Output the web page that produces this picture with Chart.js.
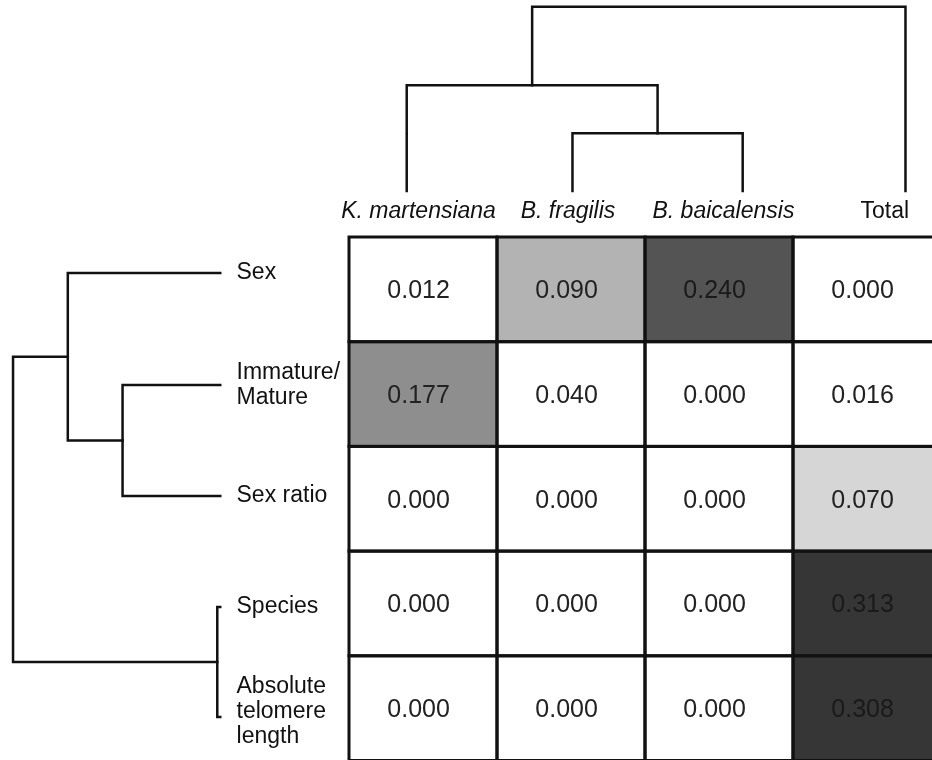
<!DOCTYPE html>
<html>
<head>
<meta charset="utf-8">
<script src="https://cdn.jsdelivr.net/npm/chart.js@4.4.1/dist/chart.umd.min.js"></script>
<style>
  html, body { margin: 0; padding: 0; background: #fff; overflow: hidden; }
  canvas { display: block; }
</style>
</head>
<body>
<canvas id="heat" width="932" height="760"></canvas>
<script>
// heatmap columns and rows
var columns = ['K. martensiana', 'B. fragilis', 'B. baicalensis', 'Total'];
var rows = ['Sex', 'Immature/\nMature', 'Sex ratio', 'Species', 'Absolute\ntelomere\nlength'];

// values per column, one entry per row
var kMartensiana = [0.012, 0.177, 0.000, 0.000, 0.000];
var bFragilis    = [0.090, 0.040, 0.000, 0.000, 0.000];
var bBaicalensis = [0.240, 0.000, 0.000, 0.000, 0.000];
var total        = [0.000, 0.016, 0.070, 0.313, 0.308];
var colValues = [kMartensiana, bFragilis, bBaicalensis, total];

// dendrograms: merge heights (leaf = index)
var colTree = {h: 2.2, kids: [{h: 1.45, kids: [0, {h: 0.99, kids: [1, 2]}]}, 3]};
var rowTree = {h: 2.27, kids: [{h: 1.90, kids: [0, {h: 1.53, kids: [1, 2]}]}, {h: 0.89, kids: [3, 4]}]};

// layout (in plot units: one cell = 1 x 1)
var colLeafX = [0.39, 1.51, 2.66, 3.76];
var colLabelX = [0.47, 1.48, 2.53, 3.62];
var rowLeafY = [0.344, 1.414, 2.474, 3.534, 4.585];
var colLeafBase = 0.44, rowLeafBase = 0.87;

var shade = function(v) {
  if (v < 0.05) return '#ffffff';
  if (v < 0.08) return '#d6d6d6';
  if (v < 0.15) return '#b3b3b3';
  if (v < 0.2) return '#8e8e8e';
  if (v < 0.3) return '#545454';
  return '#363636';
};

var buildTree = function(node, leafPos, base, out) {
  if (typeof node === 'number') return {pos: leafPos[node], h: base};
  var a = buildTree(node.kids[0], leafPos, base, out);
  var b = buildTree(node.kids[1], leafPos, base, out);
  out.push([[a.pos, a.h], [a.pos, node.h], [b.pos, node.h], [b.pos, b.h]]);
  return {pos: (a.pos + b.pos) / 2, h: node.h};
};

var datasets = [];
var colPaths = [], rowPaths = [];
buildTree(colTree, colLeafX, colLeafBase, colPaths);
buildTree(rowTree, rowLeafY, rowLeafBase, rowPaths);
colPaths.forEach(function(p) {
  datasets.push({data: p.map(function(q) { return {x: q[0], y: -q[1]}; })});
});
rowPaths.forEach(function(p) {
  datasets.push({data: p.map(function(q) { return {x: -q[1], y: q[0]}; })});
});
datasets.forEach(function(d) {
  d.showLine = true;
  d.borderColor = '#111';
  d.borderWidth = 2.5;
  d.pointRadius = 0;
  d.borderCapStyle = 'square';
  d.borderJoinStyle = 'miter';
  d.tension = 0;
});

var FONT = '"Liberation Sans", Arial, sans-serif';

var heatPlugin = {
  id: 'heat',
  beforeDatasetsDraw: function(chart) {
    var ctx = chart.ctx, xs = chart.scales.x, ys = chart.scales.y;
    ctx.save();
    // cell fills
    colValues.forEach(function(vals, c) {
      vals.forEach(function(v, r) {
        var x0 = xs.getPixelForValue(c), x1 = xs.getPixelForValue(c + 1);
        var y0 = ys.getPixelForValue(r), y1 = ys.getPixelForValue(r + 1);
        ctx.fillStyle = shade(v);
        ctx.fillRect(x0, y0, x1 - x0, y1 - y0);
      });
    });
    // cell borders
    ctx.strokeStyle = '#111';
    ctx.lineWidth = 3;
    colValues.forEach(function(vals, c) {
      vals.forEach(function(v, r) {
        var x0 = xs.getPixelForValue(c), x1 = xs.getPixelForValue(c + 1);
        var y0 = ys.getPixelForValue(r), y1 = ys.getPixelForValue(r + 1);
        ctx.strokeRect(x0, y0, x1 - x0, y1 - y0);
      });
    });
    // cell values
    ctx.font = '25px ' + FONT;
    ctx.textAlign = 'center';
    ctx.textBaseline = 'middle';
    colValues.forEach(function(vals, c) {
      vals.forEach(function(v, r) {
        ctx.fillStyle = v >= 0.2 ? '#1a1a1a' : '#222';
        ctx.fillText(v.toFixed(3), xs.getPixelForValue(c + 0.47), ys.getPixelForValue(r + 0.52));
      });
    });
    // column labels
    columns.forEach(function(name, c) {
      ctx.font = (name === 'Total' ? '' : 'italic ') + '23px ' + FONT;
      ctx.fillStyle = '#111';
      ctx.fillText(name, xs.getPixelForValue(colLabelX[c]), ys.getPixelForValue(-0.24));
    });
    // row labels
    ctx.font = '23px ' + FONT;
    ctx.textAlign = 'left';
    rows.forEach(function(name, r) {
      var lines = name.split('\n');
      var lh = 25;
      var yc = ys.getPixelForValue(rowLeafY[r]);
      if (r === 4) yc -= 5;
      lines.forEach(function(line, i) {
        ctx.fillText(line, xs.getPixelForValue(-0.76), yc + (i - (lines.length - 1) / 2) * lh);
      });
    });
    ctx.restore();
  }
};

new Chart(document.getElementById('heat'), {
  type: 'scatter',
  data: {datasets: datasets},
  options: {
    responsive: false,
    animation: false,
    devicePixelRatio: 1,
    layout: {padding: 0},
    plugins: {legend: {display: false}, tooltip: {enabled: false}},
    scales: {
      x: {type: 'linear', display: false, min: -349 / 148, max: (932 - 349) / 148},
      y: {type: 'linear', display: false, reverse: true, min: -237 / 104.7, max: (760 - 237) / 104.7}
    }
  },
  plugins: [heatPlugin]
});
</script>
</body>
</html>
